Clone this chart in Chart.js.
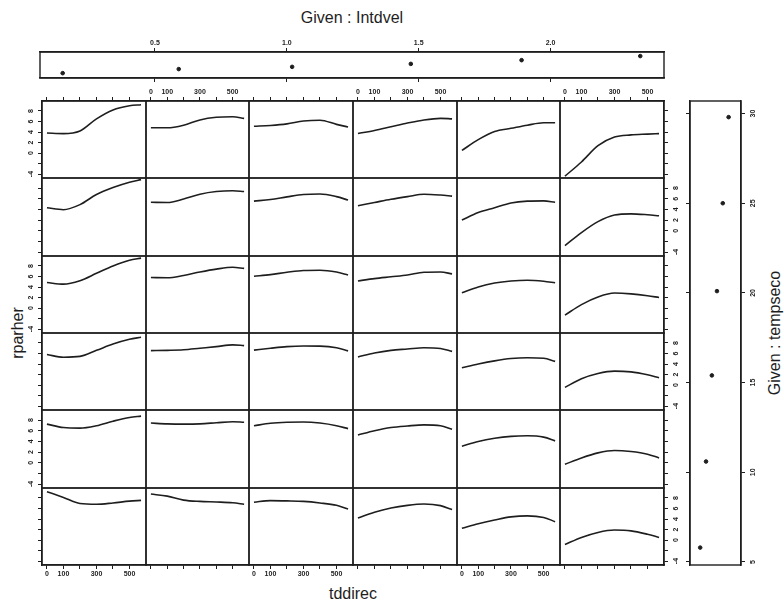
<!DOCTYPE html>
<html>
<head>
<meta charset="utf-8">
<script src="https://cdn.jsdelivr.net/npm/chart.js@4"></script>
<style>
    body { margin: 0; background: #fff; }
    #page { position: relative; width: 784px; height: 606px; overflow: hidden; font-family: "Liberation Sans", Arial, sans-serif; color: #1e1e1e; }
    #page canvas { position: absolute; }
    .title { position: absolute; width: 200px; height: 20px; line-height: 20px; text-align: center; font-size: 16px; white-space: nowrap; }
    .rot { transform: rotate(-90deg); transform-origin: 50% 50%; }
</style>
</head>
<body>
<div id="page">
    <div class="title" style="left:252px; top:8px;">Given : Intdvel</div>
    <div class="title rot" style="left:675px; top:323px;">Given : tempseco</div>
    <div class="title rot" style="left:-82px; top:323px;">rparher</div>
    <div class="title" style="left:253px; top:584px;">tddirec</div>
</div>
<script>

    // x positions of the fitted curves and axis ticks
    const tddirec = [0, 100, 200, 300, 400, 500, 570]
    const tddirecTicks = [0, 100, 200, 300, 400, 500]
    const tddirecLabels = [0, 100, 300, 500]
    const rparherTicks = [-4, -2, 0, 2, 4, 6, 8]
    const rparherLabels = [-4, 0, 2, 4, 6, 8]

    // given panels
    const intdvel = [0.15, 0.59, 1.02, 1.47, 1.89, 2.34]
    const intdvelLevel = [1.3, 2.4, 3.0, 3.8, 4.8, 5.9]
    const intdvelTicks = [0.5, 1.0, 1.5, 2.0]

    const tempseco = [5.8, 10.6, 15.4, 20.1, 25.0, 29.8]
    const tempsecoLevel = [1.4, 2.2, 3.0, 3.7, 4.5, 5.3]
    const tempsecoTicks = [5, 10, 15, 20, 25, 30]

    // fitted rparher per panel, one row per tempseco interval (top row = warmest),
    // inside each row one curve per intdvel interval, left to right
    const fitTemp30 = [
        [3.8, 3.7, 4.2, 6.5, 8.2, 9.0, 9.2],
        [4.8, 4.8, 5.3, 6.3, 6.8, 6.9, 6.6],
        [5.1, 5.25, 5.55, 6.1, 6.25, 5.45, 4.95],
        [3.7, 4.3, 5.0, 5.7, 6.3, 6.6, 6.5],
        [0.5, 2.55, 4.1, 4.7, 5.3, 5.75, 5.75],
        [-4.4, -1.7, 1.4, 3.05, 3.45, 3.6, 3.7]
    ]
    const fitTemp25 = [
        [4.3, 3.95, 4.9, 6.8, 8.1, 9.1, 9.6],
        [5.35, 5.3, 5.95, 6.85, 7.35, 7.5, 7.35],
        [5.55, 5.85, 6.35, 6.8, 6.9, 6.4, 5.75],
        [4.7, 5.3, 5.9, 6.4, 6.85, 6.7, 6.5],
        [2.0, 3.4, 4.3, 5.2, 5.55, 5.6, 5.35],
        [-2.8, -0.35, 1.7, 2.95, 3.17, 3.0, 2.8]
    ]
    const fitTemp20 = [
        [4.85, 4.55, 5.2, 6.6, 8.0, 9.1, 9.5],
        [5.8, 5.75, 6.2, 6.85, 7.4, 7.75, 7.55],
        [6.05, 6.35, 6.8, 7.15, 7.2, 6.85, 6.3],
        [5.15, 5.6, 5.95, 6.3, 6.8, 6.85, 6.5],
        [2.9, 4.0, 4.75, 5.15, 5.3, 5.1, 4.8],
        [-1.35, 0.65, 2.1, 2.85, 2.7, 2.35, 2.0]
    ]
    const fitTemp15 = [
        [5.8, 5.3, 5.45, 6.6, 7.8, 8.7, 9.1],
        [6.55, 6.6, 6.7, 7.0, 7.3, 7.65, 7.5],
        [6.65, 7.0, 7.3, 7.42, 7.4, 7.1, 6.5],
        [5.35, 6.1, 6.6, 6.85, 7.1, 6.95, 6.4],
        [3.3, 4.0, 4.6, 5.05, 5.2, 5.1, 4.5],
        [-0.45, 1.2, 2.2, 2.65, 2.5, 1.95, 1.4]
    ]
    const fitTemp10 = [
        [7.25, 6.6, 6.5, 6.95, 7.8, 8.5, 8.75],
        [7.45, 7.3, 7.25, 7.3, 7.5, 7.7, 7.6],
        [6.95, 7.4, 7.6, 7.65, 7.45, 6.95, 6.4],
        [5.2, 6.0, 6.6, 6.9, 7.1, 6.95, 6.3],
        [3.1, 4.0, 4.6, 4.95, 5.05, 4.8, 4.1],
        [-0.3, 0.9, 1.85, 2.3, 2.1, 1.6, 0.9]
    ]
    const fitTemp5 = [
        [9.2, 8.1, 6.95, 6.8, 7.05, 7.4, 7.55],
        [8.75, 8.35, 7.6, 7.35, 7.25, 7.1, 6.8],
        [7.2, 7.5, 7.45, 7.35, 7.05, 6.6, 5.9],
        [4.2, 5.3, 6.1, 6.6, 6.85, 6.55, 5.8],
        [2.25, 3.1, 3.8, 4.4, 4.6, 4.3, 3.5],
        [-0.85, 0.5, 1.45, 1.9, 1.75, 1.1, 0.5]
    ]
    const panelRows = [fitTemp30, fitTemp25, fitTemp20, fitTemp15, fitTemp10, fitTemp5]

    // page geometry
    const colX = [42, 146, 249, 353, 457, 560, 664]
    const rowY = [101, 178, 256, 333, 410, 488, 565]
    const M = 24
    const INK = '#1e1e1e'
    const tickFont = { family: 'Liberation Sans', size: 7, weight: 'bold' }

    const page = document.querySelector('#page')

    const makeCanvas = (left, top, w, h) => {
        const cv = document.createElement('canvas')
        cv.width = w
        cv.height = h
        cv.style.left = left + 'px'
        cv.style.top = top + 'px'
        cv.style.width = w + 'px'
        cv.style.height = h + 'px'
        page.appendChild(cv)
        return cv.getContext('2d')
    }

    // frame round every plotting region
    const boxPlugin = {
        id: 'box',
        afterDraw: (chart) => {
            const { ctx, chartArea: a } = chart
            ctx.save()
            ctx.strokeStyle = INK
            ctx.lineWidth = 1.4
            ctx.strokeRect(a.left, a.top, a.right - a.left, a.bottom - a.top)
            ctx.restore()
        }
    }

    // R draws y labels parallel to the axis, Chart.js can't rotate y ticks
    const sideLabels = {
        id: 'sideLabels',
        afterDraw: (chart, args, opts) => {
            if (!opts.values) return
            const { ctx, chartArea: a } = chart
            const scale = chart.scales[opts.scale]
            const x = opts.side === 'left' ? a.left - opts.offset : a.right + opts.offset
            ctx.save()
            ctx.fillStyle = INK
            ctx.font = 'bold 7px "Liberation Sans"'
            ctx.textAlign = 'center'
            ctx.textBaseline = 'middle'
            opts.values.forEach(v => {
                ctx.save()
                ctx.translate(x, scale.getPixelForValue(v))
                ctx.rotate(-Math.PI / 2)
                ctx.fillText(String(v), 0, 0)
                ctx.restore()
            })
            ctx.restore()
        }
    }

    Chart.register(boxPlugin, sideLabels)

    const axis = (extra) => ({
        type: 'linear',
        border: { display: true, color: INK, width: 1.4 },
        grid: { drawOnChartArea: false, drawTicks: true, tickLength: 4, color: INK, lineWidth: 1 },
        ...extra
    })

    const fixedTicks = (list) => (s) => { s.ticks = list.map(value => ({ value })) }

    // hidden scales still run afterFit, so only size the visible ones
    const fitHeight = (on) => (s) => { s.height = on ? M : 0 }
    const fitWidth = (on) => (s) => { s.width = on ? M : 0 }

    const baseOptions = (padding, plugins, scales) => ({
        responsive: false,
        animation: false,
        events: [],
        layout: { autoPadding: false, padding },
        plugins: { legend: { display: false }, tooltip: { enabled: false }, ...plugins },
        scales
    })

    const drawPanel = (r, c, values) => {
        const w = colX[c + 1] - colX[c]
        const h = rowY[r + 1] - rowY[r]
        const ctx = makeCanvas(colX[c] - M, rowY[r] - M, w + 2 * M, h + 2 * M)

        const xOn = r === 0 || r === 5
        const yOn = c === 0 || c === 5
        const xLabelled = (r === 5 && c % 2 === 0) || (r === 0 && c % 2 === 1)
        const yLabelled = (c === 0 && r % 2 === 0) || (c === 5 && r % 2 === 1)

        new Chart(ctx, {
            type: 'line',
            data: {
                datasets: [{
                    data: tddirec.map((x, i) => ({ x, y: values[i] })),
                    borderColor: INK,
                    borderWidth: 1.6,
                    pointRadius: 0,
                    cubicInterpolationMode: 'monotone',
                    fill: false
                }]
            },
            options: baseOptions(
                {
                    left: c === 0 ? 0 : M,
                    right: c === 5 ? 0 : M,
                    top: r === 0 ? 0 : M,
                    bottom: r === 5 ? 0 : M
                },
                {
                    sideLabels: yLabelled
                        ? { scale: 'y', values: rparherLabels, side: c === 0 ? 'left' : 'right', offset: c === 0 ? 11 : 12 }
                        : {}
                },
                {
                    x: axis({
                        min: -30, max: 600,
                        display: xOn,
                        position: r === 0 ? 'top' : 'bottom',
                        afterBuildTicks: fixedTicks(tddirecTicks),
                        afterFit: fitHeight(xOn),
                        ticks: {
                            display: xLabelled, autoSkip: false, maxRotation: 0, minRotation: 0,
                            padding: 1, font: tickFont, color: INK,
                            callback: v => tddirecLabels.includes(v) ? String(v) : ''
                        }
                    }),
                    y: axis({
                        min: -4.75, max: 9.9,
                        display: yOn,
                        position: c === 0 ? 'left' : 'right',
                        afterBuildTicks: fixedTicks(rparherTicks),
                        afterFit: fitWidth(yOn),
                        ticks: { display: false }
                    })
                }
            )
        })
    }

    panelRows.forEach((row, r) => row.forEach((values, c) => drawPanel(r, c, values)))

    // Given : Intdvel
    const drawTopGiven = () => {
        const left = 40, right = 664, top = 52, bottom = 78
        const ctx = makeCanvas(left - M, top - M, right - left + 2 * M, bottom - top + 2 * M)
        new Chart(ctx, {
            type: 'scatter',
            data: {
                datasets: [{
                    data: intdvel.map((x, i) => ({ x, y: intdvelLevel[i] })),
                    pointRadius: 1.8,
                    pointBackgroundColor: INK,
                    borderColor: INK
                }]
            },
            options: baseOptions(
                { left: M, right: M, top: 0, bottom: 0 },
                { sideLabels: {} },
                {
                    x: axis({
                        min: 0.064, max: 2.43, position: 'top',
                        afterBuildTicks: fixedTicks(intdvelTicks),
                        afterFit: fitHeight(true),
                        ticks: { autoSkip: false, maxRotation: 0, padding: 1, font: tickFont, color: INK, callback: v => v.toFixed(1) }
                    }),
                    x2: axis({
                        min: 0.064, max: 2.43, position: 'bottom',
                        afterBuildTicks: fixedTicks(intdvelTicks),
                        afterFit: fitHeight(true),
                        ticks: { display: false }
                    }),
                    y: { type: 'linear', min: 0, max: 7, display: false }
                }
            )
        })
    }

    // Given : tempseco
    const drawSideGiven = () => {
        const left = 690, right = 741, top = 101, bottom = 565
        const ctx = makeCanvas(left - M, top - M, right - left + 2 * M, bottom - top + 2 * M)
        new Chart(ctx, {
            type: 'scatter',
            data: {
                datasets: [{
                    data: tempseco.map((y, i) => ({ x: tempsecoLevel[i], y })),
                    pointRadius: 1.8,
                    pointBackgroundColor: INK,
                    borderColor: INK
                }]
            },
            options: baseOptions(
                { left: 0, right: 0, top: M, bottom: M },
                { sideLabels: { scale: 'y', values: tempsecoTicks, side: 'right', offset: 12 } },
                {
                    x: { type: 'linear', min: 0, max: 7, display: false },
                    y: axis({
                        min: 4.83, max: 30.7, position: 'right',
                        afterBuildTicks: fixedTicks(tempsecoTicks),
                        afterFit: fitWidth(true),
                        ticks: { display: false }
                    }),
                    y2: axis({
                        min: 4.83, max: 30.7, position: 'left',
                        afterBuildTicks: fixedTicks(tempsecoTicks),
                        afterFit: fitWidth(true),
                        ticks: { display: false }
                    })
                }
            )
        })
    }

    drawTopGiven()
    drawSideGiven()

</script>
</body>
</html>
